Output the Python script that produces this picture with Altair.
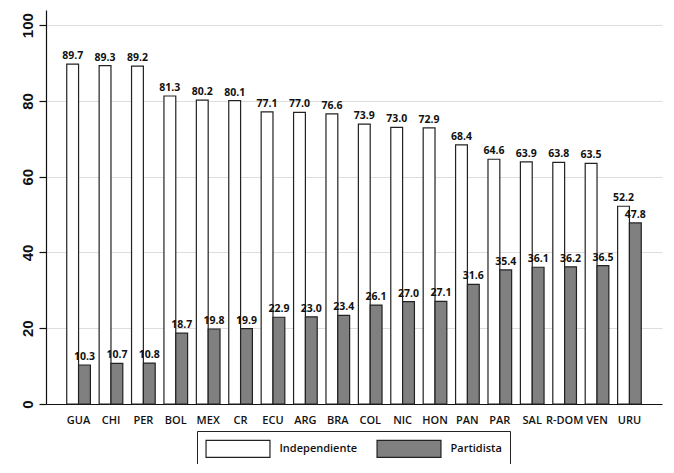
import altair as alt
import pandas as pd

countries = ["GUA", "CHI", "PER", "BOL", "MEX", "CR", "ECU", "ARG", "BRA",
             "COL", "NIC", "HON", "PAN", "PAR", "SAL", "R-DOM", "VEN", "URU"]
independiente = [89.7, 89.3, 89.2, 81.3, 80.2, 80.1, 77.1, 77.0, 76.6,
                 73.9, 73.0, 72.9, 68.4, 64.6, 63.9, 63.8, 63.5, 52.2]
partidista = [10.3, 10.7, 10.8, 18.7, 19.8, 19.9, 22.9, 23.0, 23.4,
              26.1, 27.0, 27.1, 31.6, 35.4, 36.1, 36.2, 36.5, 47.8]
series = ["Independiente", "Partidista"]
y_ticks = [0, 20, 40, 60, 80, 100]

rows = []
for c, a, b in zip(countries, independiente, partidista):
    rows.append({"pais": c, "serie": series[0], "valor": a})
    rows.append({"pais": c, "serie": series[1], "valor": b})
df = pd.DataFrame(rows)

FONT = "Open Sans"

x_enc = alt.X("pais:N", sort=countries, title=None,
              scale=alt.Scale(paddingInner=0.27, paddingOuter=0.64),
              axis=alt.Axis(labelAngle=0, ticks=False, labelPadding=10,
                            labelFont=FONT, labelFontSize=11, labelFontWeight=600,
                            labelColor="#111", domainColor="#111", domainWidth=1.2,
                            grid=False))
xoff = alt.XOffset("serie:N", sort=series, scale=alt.Scale(paddingInner=0, paddingOuter=0))
y_enc = alt.Y("valor:Q", title=None,
              scale=alt.Scale(domain=[0, 104], nice=False, zero=True),
              axis=alt.Axis(values=y_ticks, labelAngle=270, labelFont="Liberation Sans",
                            labelFontSize=15, labelFontWeight="bold", labelColor="#111",
                            labelAlign="center", labelBaseline="bottom", labelPadding=4,
                            tickSize=7, tickColor="#111", tickWidth=1.2,
                            domainColor="#111", domainWidth=1.2,
                            grid=True, gridColor="#dddddd", gridWidth=1.2))

color = alt.Color("serie:N", sort=series,
                  scale=alt.Scale(domain=series, range=["#ffffff", "#808080"]),
                  legend=alt.Legend(title=None, orient="none", direction="horizontal",
                                    legendX=151, legendY=421,
                                    symbolType="M-3.76,-1H3.76V1H-3.76Z", symbolSize=289,
                                    symbolOffset=23.5,
                                    symbolStrokeColor="#222", symbolStrokeWidth=1.2,
                                    symbolOpacity=1,
                                    labelFont=FONT, labelFontSize=11, labelFontWeight=600,
                                    labelColor="#111", labelOffset=32, columnPadding=16,
                                    padding=8, strokeColor="#222", fillColor="#ffffff"))

bars = alt.Chart(df).mark_bar(stroke="#222", strokeWidth=1.2).encode(
    x=x_enc, xOffset=xoff, y=y_enc, color=color
)
labels = alt.Chart(df).mark_text(dy=-5, baseline="alphabetic", font=FONT,
                                 fontSize=10.5, fontWeight="bold", color="#111").encode(
    x=alt.X("pais:N", sort=countries), xOffset=xoff, y="valor:Q",
    text=alt.Text("valor:Q", format=".1f")
)

chart = alt.layer(bars, labels).properties(
    width=616, height=394,
    autosize=alt.AutoSizeParams(type="none"),
    padding={"left": 38, "top": 2, "right": 4, "bottom": 60},
    background="white"
).configure_view(stroke=None)

chart.save("out.html", embed_options={"renderer": "svg", "actions": False})
